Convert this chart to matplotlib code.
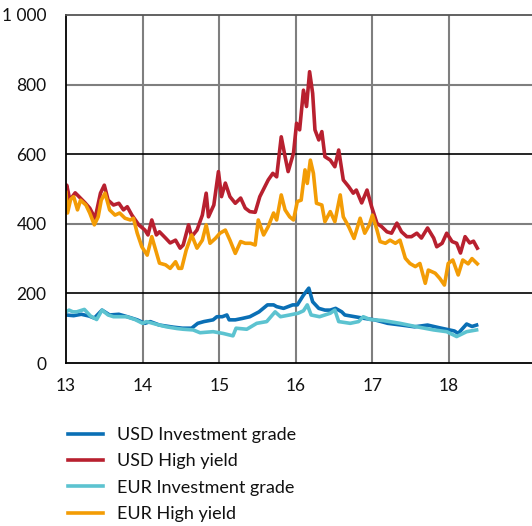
import matplotlib
matplotlib.use("Agg")
import matplotlib.pyplot as plt

# spreads in basis points, x as years (13 = 2013)
usd_ig_t = [13.00, 13.10, 13.20, 13.30, 13.37, 13.47, 13.57, 13.69, 13.80, 13.93, 14.03, 14.10, 14.22,
            14.40, 14.52, 14.64, 14.72, 14.80, 14.92, 14.97, 15.04, 15.10, 15.13, 15.21, 15.30, 15.40,
            15.52, 15.63, 15.71, 15.75, 15.84, 15.96, 16.02, 16.10, 16.17, 16.22, 16.30, 16.38, 16.45,
            16.52, 16.60, 16.64, 16.77, 16.90, 17.03, 17.20, 17.38, 17.55, 17.72, 17.90, 18.07, 18.12,
            18.23, 18.30, 18.36]
usd_ig = [138, 136, 140, 135, 129, 152, 138, 140, 133, 124, 114, 119, 109,
          103, 100, 100, 114, 119, 124, 133, 133, 138, 124, 124, 128, 133,
          147, 167, 167, 162, 157, 167, 167, 195, 215, 176, 157, 152, 152,
          157, 147, 138, 133, 128, 124, 114, 109, 104, 109, 100, 92, 85,
          112, 105, 109]

usd_hy_t = [13.00, 13.01, 13.05, 13.12, 13.17, 13.25, 13.31, 13.38, 13.45, 13.50, 13.55, 13.62, 13.69,
            13.75, 13.80, 13.86, 13.95, 14.03, 14.07, 14.12, 14.18, 14.22, 14.30, 14.36, 14.43, 14.49,
            14.53, 14.60, 14.64, 14.71, 14.78, 14.83, 14.86, 14.93, 14.99, 15.03, 15.08, 15.14, 15.21,
            15.28, 15.34, 15.40, 15.47, 15.53, 15.64, 15.70, 15.75, 15.81, 15.86, 15.90, 15.97, 16.01,
            16.05, 16.10, 16.14, 16.18, 16.22, 16.25, 16.30, 16.34, 16.38, 16.45, 16.51, 16.56, 16.62,
            16.69, 16.75, 16.79, 16.86, 16.93, 16.99, 17.06, 17.12, 17.19, 17.25, 17.32, 17.38, 17.45,
            17.51, 17.58, 17.64, 17.72, 17.80, 17.84, 17.91, 17.97, 18.04, 18.10, 18.15, 18.21, 18.27,
            18.32, 18.37]
usd_hy = [505, 511, 468, 489, 478, 460, 445, 416, 488, 511, 468, 454, 459,
          440, 449, 425, 397, 382, 368, 411, 368, 377, 359, 345, 353, 330,
          339, 397, 363, 382, 425, 488, 420, 454, 550, 478, 517, 478, 459,
          474, 445, 435, 433, 478, 526, 545, 535, 650, 593, 550, 603, 689,
          670, 784, 737, 837, 775, 670, 641, 665, 593, 583, 564, 612, 526,
          507, 488, 497, 460, 497, 449, 401, 392, 377, 373, 402, 377, 363,
          363, 373, 359, 388, 359, 334, 344, 373, 349, 344, 316, 363, 345,
          350, 330]

eur_ig_t = [13.00, 13.04, 13.09, 13.14, 13.24, 13.32, 13.40, 13.47, 13.55, 13.62, 13.79, 13.90, 14.00,
            14.05, 14.20, 14.31, 14.45, 14.53, 14.66, 14.75, 14.92, 15.05, 15.18, 15.22, 15.36, 15.49,
            15.62, 15.73, 15.80, 15.92, 16.03, 16.10, 16.15, 16.20, 16.31, 16.45, 16.51, 16.56, 16.71,
            16.82, 16.88, 16.97, 17.14, 17.36, 17.58, 17.80, 17.97, 18.10, 18.23, 18.36]
eur_ig = [147, 152, 147, 147, 154, 135, 125, 152, 138, 133, 133, 125, 114,
          119, 110, 104, 99, 97, 95, 87, 90, 85, 78, 100, 97, 114,
          119, 147, 133, 138, 143, 150, 167, 138, 133, 143, 152, 119, 114,
          119, 133, 125, 122, 114, 104, 95, 90, 76, 90, 95]

eur_hy_t = [13.00, 13.02, 13.06, 13.10, 13.15, 13.19, 13.26, 13.31, 13.37, 13.42, 13.46, 13.51, 13.57,
            13.64, 13.70, 13.77, 13.84, 13.88, 13.93, 13.99, 14.06, 14.12, 14.17, 14.22, 14.30, 14.36,
            14.43, 14.47, 14.51, 14.57, 14.64, 14.71, 14.78, 14.83, 14.88, 14.95, 15.01, 15.08, 15.14,
            15.21, 15.28, 15.34, 15.41, 15.47, 15.51, 15.58, 15.64, 15.71, 15.75, 15.81, 15.86, 15.92,
            15.97, 16.02, 16.07, 16.12, 16.15, 16.19, 16.23, 16.27, 16.34, 16.38, 16.45, 16.51, 16.58,
            16.62, 16.69, 16.76, 16.84, 16.90, 16.96, 17.00, 17.06, 17.10, 17.17, 17.23, 17.30, 17.36,
            17.43, 17.49, 17.56, 17.62, 17.69, 17.73, 17.82, 17.88, 17.94, 17.99, 18.05, 18.12, 18.18,
            18.25, 18.30, 18.37]
eur_hy = [490, 431, 470, 478, 440, 468, 454, 431, 397, 420, 468, 488, 440,
          425, 431, 416, 411, 416, 373, 334, 310, 363, 325, 287, 282, 272,
          291, 272, 272, 325, 368, 330, 353, 397, 344, 358, 373, 382, 353,
          315, 349, 344, 344, 339, 411, 368, 392, 431, 411, 483, 440, 420,
          411, 464, 468, 555, 516, 583, 545, 459, 454, 406, 435, 406, 483,
          420, 392, 358, 416, 373, 397, 425, 382, 349, 344, 353, 344, 353,
          301, 286, 277, 286, 229, 267, 258, 243, 224, 286, 296, 253, 296,
          285, 300, 285]

labels = ["USD Investment grade", "USD High yield", "EUR Investment grade", "EUR High yield"]
colors = ["#0a6fb5", "#b8202f", "#5cc3d0", "#f39c05"]

plt.rcParams['font.family'] = ['Lato', 'DejaVu Sans']
plt.rcParams['text.color'] = '#111111'

fig = plt.figure(figsize=(5.32, 5.26), dpi=100)
ax = fig.add_axes([66 / 532, 1 - 363 / 526, 1 - 66 / 532, 348 / 526])

series = [(usd_ig_t, usd_ig), (usd_hy_t, usd_hy), (eur_ig_t, eur_ig), (eur_hy_t, eur_hy)]
for (t, v), lab, c in zip(series, labels, colors):
    ax.plot(t, v, color=c, lw=2.6, label=lab, solid_joinstyle='round')

ax.set_xlim(13, 13 + 466 / 76.6)
ax.set_ylim(0, 1000)
ax.set_xticks([13, 14, 15, 16, 17, 18])
ax.set_yticks([0, 200, 400, 600, 800, 1000])
ax.set_yticklabels(["0", "200", "400", "600", "800", "1 000"])
ax.tick_params(length=0, labelsize=12.5, pad=11, labelcolor='#111111')
ax.tick_params(axis='y', pad=14)

for x in [14, 15, 16, 17, 18]:
    ax.axvline(x, color="#7f7f7f", lw=1.5, zorder=0)
for y, c in [(200, "black"), (400, "#7f7f7f"), (600, "black"), (800, "#7f7f7f")]:
    ax.axhline(y, color=c, lw=1.2 if c == "black" else 1.5, zorder=0)

ax.spines['right'].set_visible(False)
ax.spines['top'].set_color("#555555")
ax.spines['top'].set_linewidth(1.3)
for s in ['left', 'bottom']:
    ax.spines[s].set_linewidth(1.3)

fig.legend(loc='upper left', bbox_to_anchor=(68 / 532, 1 - 427 / 526), frameon=False,
           fontsize=13, handlelength=1.95, handletextpad=0.75, labelspacing=0.57,
           borderpad=0, borderaxespad=0)

fig.savefig("out.png", dpi=100)
